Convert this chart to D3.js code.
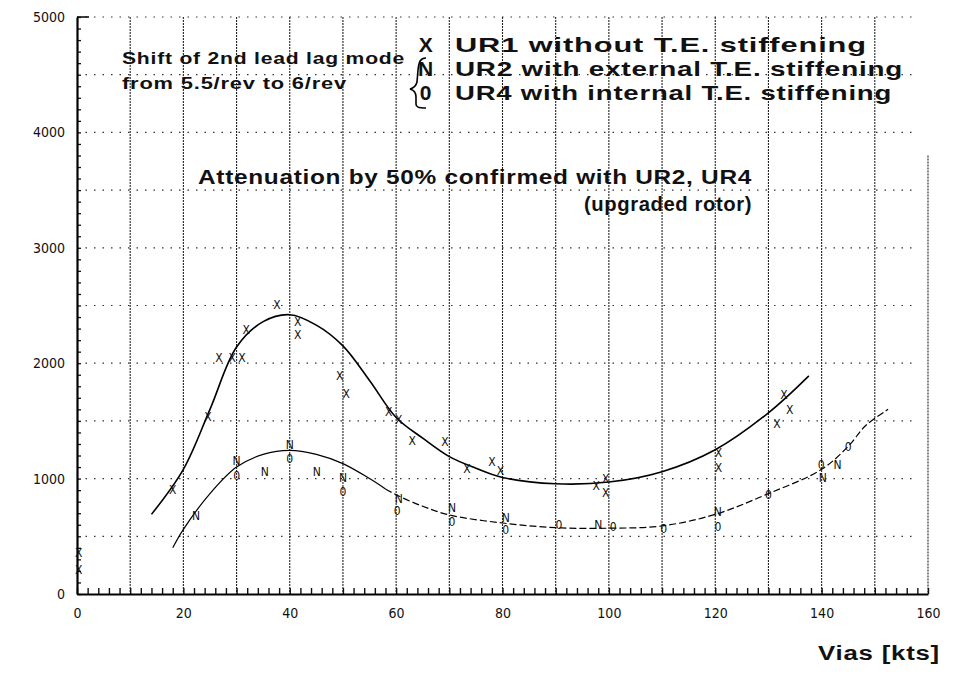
<!DOCTYPE html>
<html>
<head>
<meta charset="utf-8">
<script src="https://cdn.jsdelivr.net/npm/d3@7"></script>
<style>
  body { margin: 0; background: #fff; }
  svg { display: block; }
  .lbl { font-family: "Liberation Sans", Arial, sans-serif; font-weight: bold; fill: #111; letter-spacing: 0.6px; }
  .tick text { font-family: "Liberation Sans Narrow", "DejaVu Sans Condensed", sans-serif; font-size: 14px; fill: #111; }
  .mk { font-family: "Liberation Sans Narrow", "DejaVu Sans Condensed", sans-serif; font-size: 12px; fill: #111; }
</style>
</head>
<body>
<div id="chart"></div>
<script>
// axis ticks
const xTicks = [0, 20, 40, 60, 80, 100, 120, 140, 160];
const yTicks = [0, 1000, 2000, 3000, 4000, 5000];

// measured points [Vias kts, amplitude]
const ur1 = [[0.3, 360], [0.3, 210], [18, 900], [24.6, 1540], [26.7, 2050], [29.2, 2050], [31, 2050],
  [31.8, 2290], [37.6, 2510], [41.5, 2360], [41.5, 2250], [49.4, 1890], [50.6, 1740], [58.6, 1580],
  [60.5, 1510], [63, 1330], [69.2, 1320], [73.3, 1090], [78, 1150], [79.6, 1070], [97.6, 940],
  [99.4, 1000], [99.4, 880], [120.6, 1225], [120.6, 1095], [131.6, 1480], [132.9, 1730], [134, 1600]];
const ur2 = [[22.4, 680], [30, 1155], [35.3, 1060], [40, 1290], [45.1, 1060], [50, 1010], [60.5, 830],
  [70.5, 745], [80.6, 665], [98, 600], [120.5, 715], [140.2, 1010], [143, 1120]];
const ur4 = [[30, 1025], [40, 1170], [50, 890], [60.2, 720], [70.5, 630], [80.6, 555], [90.6, 600],
  [100.8, 580], [110.3, 570], [120.5, 585], [130, 860], [139.9, 1120], [145, 1280]];

// hand drawn fit curves
const fitUR1 = [[14, 690], [20, 1080], [25, 1600], [30, 2140], [35, 2360], [40, 2420], [45, 2330],
  [50, 2150], [55, 1850], [60, 1530], [65, 1350], [70, 1190], [75, 1090], [80, 1010], [90, 955],
  [100, 970], [110, 1060], [120, 1250], [130, 1570], [137.6, 1890]];
const fitLowSolid = [[18, 400], [20, 560], [25, 870], [30, 1100], [35, 1210], [40, 1245], [45, 1210],
  [50, 1130], [55, 1000], [58, 910]];
const fitLowDash = [[58, 910], [60, 860], [65, 760], [70, 685], [80, 615], [90, 575], [100, 570],
  [110, 590], [120, 690], [130, 870], [140, 1080], [145, 1280], [148.3, 1460], [152.5, 1600]];

const W = 962, H = 674;
const margin = { top: 17, right: 34, bottom: 80, left: 77 };
const width = W - margin.left - margin.right,
  height = H - margin.top - margin.bottom;

const svg = d3.select("#chart").append("svg")
  .attr("width", W).attr("height", H);
const g = svg.append("g")
  .attr("transform", `translate(${margin.left},${margin.top})`);

const x = d3.scaleLinear().domain([0, 160]).range([0, width]);
const y = d3.scaleLinear().domain([0, 5000]).range([height, 0]);

// grid
g.append("g").selectAll("line")
  .data(d3.range(10, 151, 10))
  .join("line")
  .attr("x1", d => x(d)).attr("x2", d => x(d))
  .attr("y1", y(5000)).attr("y2", y(0))
  .attr("stroke", "#222").attr("stroke-width", 1.1)
  .attr("stroke-dasharray", "2,1");
g.append("line")
  .attr("x1", x(160)).attr("x2", x(160))
  .attr("y1", y(3800)).attr("y2", y(0))
  .attr("stroke", "#222").attr("stroke-width", 1.1)
  .attr("stroke-dasharray", "2,1");
g.append("g").selectAll("line")
  .data(d3.range(500, 5001, 500))
  .join("line")
  .attr("x1", 0).attr("x2", x(157))
  .attr("y1", d => y(d)).attr("y2", d => y(d))
  .attr("stroke", "#333").attr("stroke-width", 1.2)
  .attr("stroke-dasharray", "1.5,7");
g.append("line")
  .attr("x1", 0).attr("x2", 12)
  .attr("y1", y(5000)).attr("y2", y(5000))
  .attr("stroke", "#000").attr("stroke-width", 1.5);

// minor ticks
g.append("g")
  .call(d3.axisRight(y).tickValues(d3.range(0, 5001, 100)).tickSize(4).tickFormat(""))
  .call(a => a.select(".domain").remove())
  .call(a => a.selectAll("line").attr("stroke", "#111").attr("stroke-width", 1.3));
g.append("g")
  .attr("transform", `translate(0,${height})`)
  .call(d3.axisTop(x).tickValues(d3.range(0, 161, 2)).tickSize(6).tickFormat(""))
  .call(a => a.select(".domain").remove())
  .call(a => a.selectAll("line").attr("stroke", "#111").attr("stroke-width", 1.4));

// axis lines and labels
g.append("g")
  .call(d3.axisLeft(y).tickValues(yTicks).tickSize(0).tickPadding(12).tickFormat(d3.format("d")))
  .call(a => a.select(".domain").attr("stroke", "#000").attr("stroke-width", 2.2));
g.append("g")
  .attr("transform", `translate(0,${height})`)
  .call(d3.axisBottom(x).tickValues(xTicks).tickSize(0).tickPadding(14))
  .call(a => a.select(".domain").attr("stroke", "#000").attr("stroke-width", 2));

// fit curves
const line = d3.line().x(d => x(d[0])).y(d => y(d[1])).curve(d3.curveCatmullRom);
g.append("path").datum(fitUR1).attr("d", line)
  .attr("fill", "none").attr("stroke", "#000").attr("stroke-width", 1.6);
g.append("path").datum(fitLowSolid).attr("d", line)
  .attr("fill", "none").attr("stroke", "#000").attr("stroke-width", 1.2);
g.append("path").datum(fitLowDash).attr("d", line)
  .attr("fill", "none").attr("stroke", "#000").attr("stroke-width", 1.2)
  .attr("stroke-dasharray", "7,3");

// markers
const marks = [[ur1, "X"], [ur2, "N"], [ur4, "0"]];
marks.forEach(([data, ch]) => {
  g.append("g").selectAll("text")
    .data(data)
    .join("text")
    .attr("class", "mk")
    .attr("x", d => x(d[0]))
    .attr("y", d => y(d[1]))
    .attr("dy", "0.36em")
    .attr("text-anchor", "middle")
    .text(ch);
});

// annotations
const note = (txt, px, py, size, len) => svg.append("text")
  .attr("class", "lbl")
  .attr("x", px).attr("y", py)
  .style("font-size", size + "px")
  .attr("textLength", len).attr("lengthAdjust", "spacingAndGlyphs")
  .text(txt);

note("Shift of 2nd lead lag mode", 122, 64, 16, 283);
note("from 5.5/rev to 6/rev", 122, 89, 16, 225);
note("UR1 without T.E. stiffening", 455, 52, 21, 412);
note("UR2 with external T.E. stiffening", 455, 76, 21, 448);
note("UR4 with internal T.E. stiffening", 455, 100, 21, 437);
note("Attenuation by 50% confirmed with UR2, UR4", 198, 184, 21, 554);
note("(upgraded rotor)", 584, 211, 21, 168);
note("Vias [kts]", 818, 660, 20, 122);

svg.append("g").selectAll("text")
  .data(["X", "N", "0"])
  .join("text")
  .attr("class", "lbl")
  .attr("x", 426).attr("y", (d, i) => 52 + i * 24)
  .attr("text-anchor", "middle")
  .style("font-size", "21px")
  .text(d => d);

// brace
svg.append("path")
  .attr("d", "M426,58 C420,58 419,62 418,70 L417,82 C416,86 414,88 410,89 C414,90 416,92 416,97 L416,104 C416,107 418,108 426,108")
  .attr("fill", "none").attr("stroke", "#000").attr("stroke-width", 1.6);
</script>
</body>
</html>
